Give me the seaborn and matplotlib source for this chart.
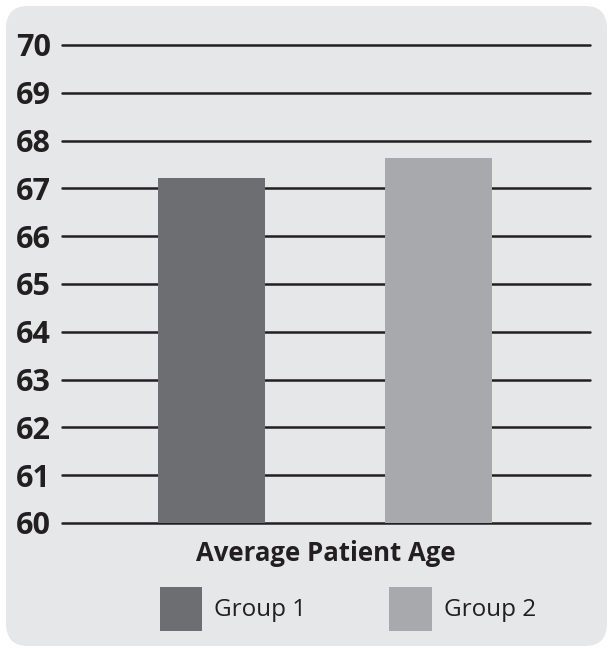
import matplotlib
matplotlib.use("Agg")
import matplotlib.pyplot as plt
import seaborn as sns
import pandas as pd
from matplotlib.patches import FancyBboxPatch, Patch

groups = ["Group 1", "Group 2"]
ages = [67.22, 67.64]
yticks = [60, 61, 62, 63, 64, 65, 66, 67, 68, 69, 70]
colors = ["#6d6e71", "#a7a9ac"]
xlabel = "Average Patient Age"

sns.set_theme(style="white")
plt.rcParams["font.family"] = ["Open Sans", "DejaVu Sans"]

W, H = 613, 652
fig = plt.figure(figsize=(W / 100, H / 100), dpi=100, facecolor="white")
bg = FancyBboxPatch((6 / W, 6 / H), (W - 12) / W, (H - 12) / H,
                    boxstyle="round,pad=0,rounding_size=0.035",
                    transform=fig.transFigure, facecolor="#e6e7e8",
                    edgecolor="none", zorder=-10)
fig.patches.append(bg)

ax = fig.add_axes([62 / W, 1 - 523 / H, (590 - 62) / W, (523 - 45) / H])
ax.set_facecolor("none")

df = pd.DataFrame({"group": groups, "age": ages})
sns.barplot(data=df, x="group", y="age", hue="group", palette=colors,
            width=0.47, legend=False, ax=ax, saturation=1, zorder=3,
            linewidth=0, edgecolor="none")

ax.set_ylim(60, 70)
ax.set_xlim(-0.659, 1.667)
ax.set_yticks(yticks)
ax.set_yticklabels([str(t) for t in yticks], fontsize=22, fontweight="bold",
                   color="#231f20")
ax.tick_params(axis="y", length=0, pad=8)
ax.set_xticks([])
ax.set_xticklabels([])
ax.yaxis.grid(True, color="#231f20", linewidth=1.8)
ax.xaxis.grid(False)
ax.set_axisbelow(True)
for ln in ax.get_ygridlines():
    ln.set_clip_on(False)
for s in ax.spines.values():
    s.set_visible(False)
ax.set_ylabel("")
ax.set_xlabel(xlabel, fontsize=18.5, fontweight="bold", color="#231f20",
              labelpad=12)

handles = [Patch(facecolor=c, edgecolor="none", label=g) for c, g in zip(colors, groups)]
fig.legend(handles=handles, loc="center", bbox_to_anchor=(348 / W, 1 - 609 / H),
           ncol=2, frameon=False, fontsize=17.5, handlelength=1.75, handleheight=2.4,
           handletextpad=0.5, columnspacing=3.4, labelcolor="#231f20")

fig.savefig("out.png", dpi=100, facecolor="white")
